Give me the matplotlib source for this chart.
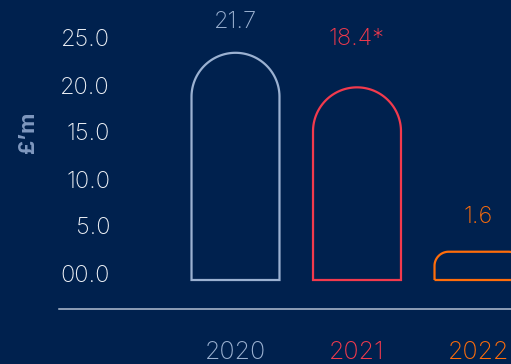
import numpy as np
import matplotlib.pyplot as plt
from matplotlib.path import Path
from matplotlib.patches import PathPatch
from matplotlib.lines import Line2D

years = ["2020", "2021", "2022"]
values = [21.7, 18.4, 1.6]
value_labels = ["21.7", "18.4*", "1.6"]
yticks = [0, 5, 10, 15, 20, 25]
ytick_labels = ["00.0", "5.0", "10.0", "15.0", "20.0", "25.0"]

bg = "#00214e"
bar_colors = ["#9bb1d1", "#f23a4d", "#ff6d0a"]
label_offsets_pt = [22, 35, 25]

plt.rcParams["font.family"] = ["Inter", "DejaVu Sans"]

W, H = 511, 364
fig = plt.figure(figsize=(W / 100, H / 100), dpi=100, facecolor=bg)

# axes frame in pixels
ax_left, ax_top, ax_bottom = 115, 10, 330
ax = fig.add_axes([ax_left / W, (H - ax_bottom) / H, 1 - ax_left / W, (ax_bottom - ax_top) / H])
ax.set_facecolor("none")

# x: category centres
x_first_px, x_step_px = 235.5, 121.5
x = np.arange(len(years))
ax.set_xlim(-(x_first_px - ax_left) / x_step_px, (W - x_first_px) / x_step_px)

# tick scale
tick_zero_px, tick_scale = 273, 9.4
ax.set_ylim(-(ax_bottom - tick_zero_px) / tick_scale, (tick_zero_px - ax_top) / tick_scale)
ax.set_yticks(yticks)
ax.set_yticklabels(ytick_labels)
ax.set_xticks(x)
ax.set_xticklabels(years)
ax.tick_params(axis="y", length=0, pad=3.6, labelsize=17, labelcolor="#eef1f6")
ax.tick_params(axis="x", length=0, pad=8, labelsize=18)
for lab, c in zip(ax.get_xticklabels(), bar_colors):
    lab.set_color(c)
for lab in ax.get_xticklabels() + ax.get_yticklabels():
    lab.set_fontweight("light")
for s in ax.spines.values():
    s.set_visible(False)

# bars use their own (taller) scale
bar_zero_px, bar_scale = 280, 10.47
axb = ax.twinx()
axb.set_ylim(-(ax_bottom - bar_zero_px) / bar_scale, (bar_zero_px - ax_top) / bar_scale)
axb.axis("off")

bar_w = 0.724
min_bar = 2.7


def arch_path(xc, h, w, sx, sy):
    r_px = min(w * sx / 2, h * sy / 2)
    rx, ry = r_px / sx, r_px / sy
    x0, x1 = xc - w / 2, xc + w / 2
    t1 = np.linspace(np.pi, np.pi / 2, 40)
    t2 = np.linspace(np.pi / 2, 0, 40)
    left = np.column_stack([x0 + rx + rx * np.cos(t1), h - ry + ry * np.sin(t1)])
    right = np.column_stack([x1 - rx + rx * np.cos(t2), h - ry + ry * np.sin(t2)])
    verts = np.vstack([[x0, 0], left, right, [x1, 0], [x0, 0]])
    return Path(verts, closed=True)


for xi, v, lab, c, off in zip(x, values, value_labels, bar_colors, label_offsets_pt):
    h = max(v, min_bar)
    patch = PathPatch(arch_path(xi, h, bar_w, x_step_px, bar_scale),
                      facecolor="none", edgecolor=c, linewidth=1.6, joinstyle="miter")
    axb.add_patch(patch)
    axb.annotate(lab, (xi, h), xytext=(0, off), textcoords="offset points",
                 ha="center", va="center", fontsize=17, color=c, fontweight="light")

# baseline rule
fig.add_artist(Line2D([59 / W, 1], [(H - 309) / H] * 2, color="#b4bfd2", linewidth=1.1))

fig.text(28 / W, 1 - 132 / H, "£’m", rotation=90, ha="center", va="center",
         fontsize=16, fontweight="bold", color="#7f98bf")

fig.savefig("out.png", dpi=100, facecolor=bg)
